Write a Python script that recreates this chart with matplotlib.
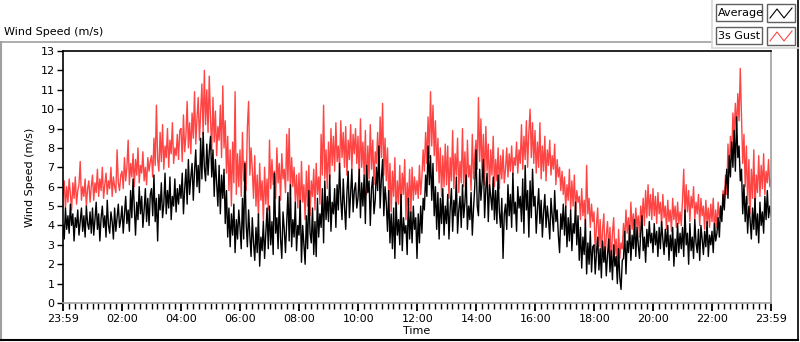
import numpy as np
import matplotlib
matplotlib.use("Agg")
import matplotlib.pyplot as plt
from matplotlib.lines import Line2D
from matplotlib.patches import Rectangle

# 2.5-minute samples starting at 23:59, one row per hour (24 per row)
average = [
    4.0, 3.3, 4.9, 3.8, 4.5, 3.6, 5.1, 4.0, 4.6, 3.2, 4.4, 3.9, 4.8, 3.5, 4.2, 4.9, 3.7, 4.5, 3.4, 5.0, 4.1, 3.8, 4.7, 3.6,
    4.9, 3.5, 4.3, 5.2, 3.8, 4.6, 3.2, 4.4, 5.0, 3.9, 4.5, 3.4, 5.3, 4.0, 3.6, 4.7, 4.2, 3.3, 4.9, 3.7, 4.4, 5.1, 3.9, 4.3,
    5.0, 3.6, 4.6, 5.5, 4.1, 4.8, 3.7, 5.8, 4.4, 6.4, 4.9, 3.5, 5.2, 4.3, 6.0, 4.6, 5.5, 3.9, 4.8, 5.9, 4.2, 5.4, 4.0, 5.6,
    5.9, 4.5, 6.6, 4.2, 5.4, 3.2, 5.6, 4.8, 6.2, 4.4, 5.1, 6.7, 4.6, 5.8, 4.9, 6.5, 4.3, 5.5, 5.0, 6.4, 4.7, 5.9, 5.1, 6.1,
    5.4, 6.7, 4.6, 5.9, 6.9, 5.1, 7.4, 5.6, 6.5, 7.2, 5.3, 6.8, 7.9, 6.0, 7.1, 5.7, 8.5, 6.4, 8.8, 7.0, 6.3, 8.2, 6.6, 7.8,
    8.6, 6.5, 7.9, 5.5, 7.4, 6.2, 5.0, 7.1, 4.6, 6.6, 5.4, 6.9, 4.1, 5.8, 3.4, 4.9, 2.9, 4.6, 3.5, 5.1, 2.6, 4.3, 3.3, 4.8,
    3.9, 2.8, 5.4, 3.3, 7.2, 4.1, 2.9, 4.8, 3.5, 2.4, 4.4, 3.1, 2.2, 3.9, 2.6, 4.6, 1.9, 3.4, 2.7, 4.2, 2.3, 3.6, 4.9, 2.8,
    5.0, 3.0, 4.2, 2.5, 6.7, 3.6, 4.4, 2.8, 5.5, 3.3, 2.3, 4.7, 3.8, 2.6, 4.1, 5.7, 3.2, 6.1, 2.9, 4.3, 3.4, 5.2, 2.7, 4.0,
    3.5, 5.3, 2.1, 4.0, 3.0, 2.0, 4.5, 2.8, 5.8, 3.6, 3.1, 4.9, 2.5, 4.2, 2.4, 5.4, 3.4, 4.6, 3.9, 5.9, 3.1, 6.3, 4.3, 5.5,
    4.2, 6.6, 3.7, 5.2, 4.6, 5.9, 3.9, 6.1, 4.8, 7.2, 5.3, 4.3, 6.4, 5.0, 3.8, 5.7, 6.8, 4.4, 5.6, 6.9, 4.7, 5.8, 6.2, 4.9,
    5.4, 6.9, 4.4, 6.2, 5.0, 6.6, 4.1, 7.1, 5.7, 6.3, 4.0, 5.9, 6.5, 4.6, 5.3, 7.0, 5.8, 8.1, 4.9, 6.4, 7.4, 4.5, 6.0, 5.2,
    3.7, 5.8, 3.1, 4.6, 2.8, 4.9, 2.3, 5.2, 3.5, 4.3, 3.0, 5.6, 2.7, 4.4, 3.6, 4.0, 2.5, 5.4, 3.3, 4.7, 3.1, 5.0, 3.8, 4.4,
    2.3, 4.6, 3.1, 5.0, 3.6, 5.4, 4.8, 6.6, 5.5, 8.1, 6.1, 7.6, 5.3, 7.2, 4.5, 6.0, 3.8, 5.7, 3.3, 5.4, 4.1, 5.9, 3.5, 5.0,
    4.1, 5.6, 3.3, 4.9, 5.9, 3.7, 5.3, 4.5, 6.5, 3.6, 4.8, 5.5, 3.9, 6.1, 4.4, 5.2, 6.6, 3.8, 5.0, 4.3, 5.7, 3.5, 4.9, 6.0,
    7.9, 5.0, 4.5, 6.9, 5.3, 6.3, 7.4, 4.4, 5.9, 6.7, 4.2, 6.1, 5.5, 4.8, 6.5, 4.3, 5.8, 4.1, 6.6, 4.7, 3.9, 5.4, 2.3, 4.6,
    5.1, 3.8, 6.1, 4.5, 5.6, 3.9, 6.7, 4.6, 5.2, 3.7, 6.0, 4.9, 5.5, 4.2, 6.4, 3.6, 7.1, 4.8, 5.8, 3.4, 6.3, 4.4, 6.9, 5.0,
    5.5, 3.6, 4.9, 5.9, 4.1, 5.3, 3.4, 4.7, 5.6, 3.9, 5.0, 4.3, 3.3, 5.4, 4.5, 3.7, 5.8, 4.2, 4.8, 3.5, 2.6, 4.6, 3.8, 5.1,
    3.5, 5.0, 2.9, 4.4, 3.2, 4.8, 2.7, 4.1, 3.6, 5.2, 3.0, 4.5, 2.2, 3.9, 1.8, 3.4, 2.5, 4.3, 1.5, 3.1, 2.0, 3.7, 1.6, 2.9,
    3.0, 1.5, 2.6, 3.4, 1.7, 2.8, 1.3, 3.2, 2.1, 2.9, 1.4, 2.5, 3.3, 1.6, 2.7, 1.2, 3.0, 1.9, 2.4, 1.0, 2.8, 1.3, 0.7, 2.2,
    2.3, 3.7, 1.5, 3.2, 2.6, 4.0, 2.2, 3.5, 2.8, 4.3, 2.4, 3.9, 3.0, 2.3, 3.6, 4.5, 2.7, 3.4, 2.1, 3.8, 2.9, 4.2, 3.1, 3.6,
    2.6, 4.1, 3.0, 3.7, 2.4, 3.9, 2.8, 4.2, 3.3, 2.5, 3.8, 2.9, 4.0, 2.2, 3.5, 2.7, 3.9, 1.9, 3.3, 2.4, 4.1, 2.6, 3.6, 2.8,
    3.9, 2.4, 4.8, 3.0, 3.6, 2.0, 4.1, 2.7, 3.4, 2.3, 4.3, 3.1, 2.6, 3.8, 2.2, 4.0, 3.3, 2.5, 3.7, 2.9, 4.2, 2.4, 3.5, 3.0,
    3.7, 2.6, 4.1, 3.2, 3.6, 4.4, 3.4, 5.0, 4.2, 5.6, 4.8, 6.0, 6.9, 5.4, 7.6, 6.5, 8.3, 7.0, 8.9, 6.8, 9.6, 7.5, 8.1, 6.3,
    6.9, 4.6, 6.1, 4.2, 5.5, 3.6, 5.0, 4.3, 3.3, 4.9, 3.8, 5.4, 3.5, 4.6, 3.1, 5.2, 4.0, 4.7, 3.6, 5.5, 4.3, 5.8, 4.4, 5.0,
    4.5,
]

gust = [
    5.5, 6.3, 4.9, 6.0, 5.2, 6.4, 5.6, 4.8, 6.2, 5.4, 6.5, 5.1, 5.8, 6.1, 7.3, 5.3, 6.0, 5.5, 6.4, 5.0, 5.9, 6.3, 5.2, 6.0,
    6.6, 5.3, 6.2, 5.7, 6.9, 5.5, 6.4, 5.8, 7.0, 5.4, 6.1, 6.7, 5.6, 6.3, 5.9, 7.0, 5.5, 6.5, 6.0, 5.7, 7.9, 6.2, 5.8, 6.6,
    6.8, 5.9, 7.5, 6.3, 7.0, 8.4, 6.1, 7.2, 6.5, 7.7, 6.0, 7.4, 6.6, 8.0, 6.2, 7.1, 6.7, 7.8, 6.3, 7.0, 6.1, 7.5, 6.8, 7.3,
    7.6, 6.5, 8.5, 7.1, 10.2, 7.4, 6.8, 8.8, 7.3, 9.2, 6.9, 8.1, 7.5, 9.0, 7.0, 8.4, 7.7, 9.3, 7.2, 8.0, 7.6, 8.7, 7.4, 8.9,
    9.0, 7.3, 9.7, 7.8, 8.6, 10.4, 8.0, 9.3, 7.7, 9.8, 8.5, 10.9, 8.2, 9.5, 10.6, 8.4, 9.9, 11.3, 8.7, 12.0, 9.2, 11.0, 8.8, 11.7,
    9.5, 7.9, 10.6, 8.3, 9.9, 7.6, 9.1, 8.4, 10.2, 7.5, 11.2, 8.0, 9.4, 6.7, 8.6, 5.8, 7.9, 5.0, 8.3, 6.2, 10.9, 5.6, 7.7, 6.0,
    7.9, 5.5, 8.8, 6.3, 7.3, 5.8, 9.1, 10.4, 6.6, 8.0, 6.9, 5.4, 7.6, 5.0, 6.6, 4.4, 7.2, 5.3, 6.3, 4.2, 7.0, 5.1, 6.4, 4.8,
    8.4, 5.9, 7.4, 6.1, 6.8, 5.4, 8.0, 6.2, 7.2, 5.3, 7.7, 6.4, 6.9, 5.7, 8.7, 6.3, 9.0, 5.6, 7.5, 6.0, 7.0, 5.2, 6.6, 4.9,
    6.7, 4.6, 7.3, 5.2, 6.1, 4.3, 6.8, 5.0, 7.1, 4.5, 6.3, 5.5, 6.9, 4.8, 7.2, 5.6, 6.5, 5.1, 8.7, 6.6, 10.2, 6.4, 7.9, 5.9,
    8.3, 6.4, 9.0, 7.1, 8.6, 6.8, 9.3, 7.3, 8.1, 6.9, 9.4, 7.5, 8.8, 7.0, 9.1, 6.6, 8.4, 7.4, 9.2, 6.9, 8.7, 7.7, 9.0, 7.2,
    8.6, 6.3, 9.5, 7.0, 8.3, 6.6, 8.9, 5.6, 8.1, 6.4, 9.2, 6.9, 8.4, 6.1, 7.8, 7.2, 8.8, 6.7, 9.6, 7.5, 10.3, 6.6, 8.5, 6.3,
    8.0, 5.3, 7.2, 4.7, 6.8, 5.5, 7.5, 4.4, 6.3, 5.1, 7.1, 4.9, 6.7, 5.6, 7.4, 4.3, 6.2, 5.0, 6.9, 4.6, 7.0, 5.3, 6.5, 5.6,
    6.3, 5.4, 7.1, 5.6, 6.5, 7.9, 6.8, 8.8, 7.2, 9.6, 7.5, 10.9, 8.1, 10.2, 7.6, 9.4, 6.8, 8.5, 6.2, 8.0, 5.5, 7.6, 6.0, 8.2,
    6.1, 8.1, 5.4, 7.5, 6.3, 8.9, 5.9, 7.7, 6.6, 8.5, 5.7, 7.3, 6.2, 9.0, 6.0, 7.8, 5.5, 8.4, 6.5, 7.1, 5.8, 8.7, 6.4, 7.6,
    8.4, 6.9, 10.6, 7.3, 9.5, 6.5, 8.7, 6.1, 9.1, 6.8, 8.2, 5.8, 7.9, 6.6, 8.6, 6.0, 7.4, 6.3, 8.0, 5.9, 7.6, 6.4, 7.9, 6.2,
    6.9, 8.0, 6.5, 7.7, 6.8, 8.1, 6.6, 7.5, 7.1, 8.3, 6.7, 7.9, 7.2, 9.2, 6.9, 8.6, 7.4, 9.4, 7.0, 8.8, 10.0, 7.5, 9.3, 7.2,
    8.9, 6.7, 8.3, 7.0, 9.3, 6.4, 8.1, 6.8, 8.6, 6.3, 7.9, 7.1, 8.4, 6.6, 7.6, 6.9, 8.2, 6.1, 7.4, 6.5, 7.0, 5.8, 6.8, 5.6,
    6.5, 4.9, 6.1, 5.3, 6.9, 4.8, 6.3, 5.0, 6.6, 4.7, 5.8, 5.2, 5.5, 4.3, 5.9, 4.5, 5.3, 4.0, 7.1, 4.6, 5.4, 3.9, 5.1, 4.2,
    4.7, 2.6, 4.0, 4.9, 2.9, 4.3, 2.4, 3.8, 4.6, 2.2, 3.5, 4.2, 2.7, 3.9, 2.1, 3.6, 4.4, 2.5, 3.3, 1.9, 3.8, 2.3, 3.1, 2.8,
    4.1, 3.2, 4.8, 3.6, 4.4, 3.3, 5.2, 3.8, 4.6, 3.5, 4.9, 3.9, 4.5, 3.4, 5.0, 4.2, 5.4, 4.0, 5.8, 4.4, 6.1, 4.5, 5.6, 4.3,
    5.9, 4.5, 5.5, 4.1, 5.7, 4.6, 5.2, 4.0, 5.6, 4.4, 5.0, 3.8, 5.3, 4.2, 4.8, 3.7, 5.4, 4.3, 5.0, 3.9, 5.2, 4.1, 4.7, 4.0,
    5.3, 6.9, 4.4, 6.1, 4.7, 5.8, 4.2, 5.5, 4.9, 6.0, 4.3, 5.2, 4.6, 5.6, 4.0, 5.4, 4.5, 5.0, 3.8, 5.3, 4.1, 4.9, 3.9, 5.1,
    4.2, 5.4, 3.6, 4.8, 3.9, 5.2, 4.4, 5.0, 4.6, 5.8, 5.3, 6.6, 5.6, 8.2, 6.7, 8.6, 7.5, 9.8, 8.6, 10.3, 8.9, 10.8, 9.4, 12.1,
    9.6, 7.2, 8.7, 6.0, 8.1, 5.1, 7.4, 4.6, 6.9, 5.4, 7.9, 4.8, 6.6, 5.7, 7.6, 5.5, 7.1, 5.9, 7.7, 5.6, 6.8, 6.2, 7.4, 6.0,
    6.4,
]

tick_labels = ["23:59", "02:00", "04:00", "06:00", "08:00", "10:00", "12:00",
               "14:00", "16:00", "18:00", "20:00", "22:00", "23:59"]

W, H = 800, 342
FS = 8
GUST_RED = "#ff4444"
FRAME_GRAY = "#a0a0a0"

plt.rcParams["font.family"] = ["DejaVu Sans"]

fig = plt.figure(figsize=(W / 100, H / 100), dpi=100)


def fx(px):
    return px / W


def fy(py):
    return 1 - py / H


ax = fig.add_axes([fx(63), fy(303), fx(771) - fx(63), fy(51) - fy(303)])

hours = np.arange(len(average)) / 24.0
ax.plot(hours, gust, color=GUST_RED, lw=1.0)
ax.plot(hours, average, color="black", lw=1.0)

ax.set_xlim(0, 24)
ax.set_ylim(0, 13)

# major ticks: 23:59, then every 2 h on the clock, then 23:59
major = [0] + [2 * k + 1 / 60 for k in range(1, 12)] + [24]
ax.set_xticks(major)
ax.set_xticklabels(tick_labels, fontsize=FS)
minor = [m for m in np.arange(0.2, 24, 0.2) if min(abs(m - j) for j in major) > 0.08]
ax.set_xticks(minor, minor=True)
ax.set_yticks(range(14))
ax.tick_params(axis="y", labelsize=FS, length=4, width=1, pad=2)
ax.tick_params(axis="x", which="major", length=6, width=1.3, pad=2)
ax.tick_params(axis="x", which="minor", length=4, width=1)

for side in ["top", "left"]:
    ax.spines[side].set_color("black")
    ax.spines[side].set_linewidth(1.2)
for side in ["right", "bottom"]:
    ax.spines[side].set_color(FRAME_GRAY)
    ax.spines[side].set_linewidth(1.2)

ax.set_xlabel("Time", fontsize=FS, labelpad=1)
ax.set_ylabel("Wind Speed (m/s)", fontsize=FS, labelpad=4)

# outer frame
fig.add_artist(Line2D([fx(0), fx(712)], [fy(42), fy(42)], color=FRAME_GRAY, lw=1.2))
fig.add_artist(Line2D([fx(1), fx(1)], [fy(42), fy(340)], color=FRAME_GRAY, lw=1.5))
fig.add_artist(Line2D([fx(0), fx(798)], [fy(340), fy(340)], color="black", lw=1.5))
fig.add_artist(Line2D([fx(798), fx(798)], [fy(0), fy(340)], color="black", lw=1.2))
fig.add_artist(Line2D([fx(712), fx(712)], [fy(0), fy(48)], color="#d8d8d8", lw=1.2))
fig.add_artist(Line2D([fx(712), fx(798)], [fy(48), fy(48)], color="#d8d8d8", lw=1.2))

fig.text(fx(4), fy(32), "Wind Speed (m/s)", fontsize=FS, va="center", ha="left")

# legend boxes
legend_rows = [("Average", "black", 4), ("3s Gust", GUST_RED, 27)]
for label, col, top in legend_rows:
    fig.add_artist(Rectangle((fx(716), fy(top + 17)), fx(46), fy(top) - fy(top + 17),
                             facecolor="white", edgecolor="#606060", lw=1.0))
    fig.text(fx(718), fy(top + 9), label, fontsize=FS, va="center", ha="left")
    fig.add_artist(Rectangle((fx(767), fy(top + 18)), fx(28), fy(top) - fy(top + 18),
                             facecolor="white", edgecolor="#606060", lw=1.0))
    xs = [fx(770), fx(777), fx(784), fx(792)]
    ys = [fy(top + 14), fy(top + 5), fy(top + 14), fy(top + 4)]
    fig.add_artist(Line2D(xs, ys, color=col, lw=0.8))

fig.savefig("out.png", dpi=100)
